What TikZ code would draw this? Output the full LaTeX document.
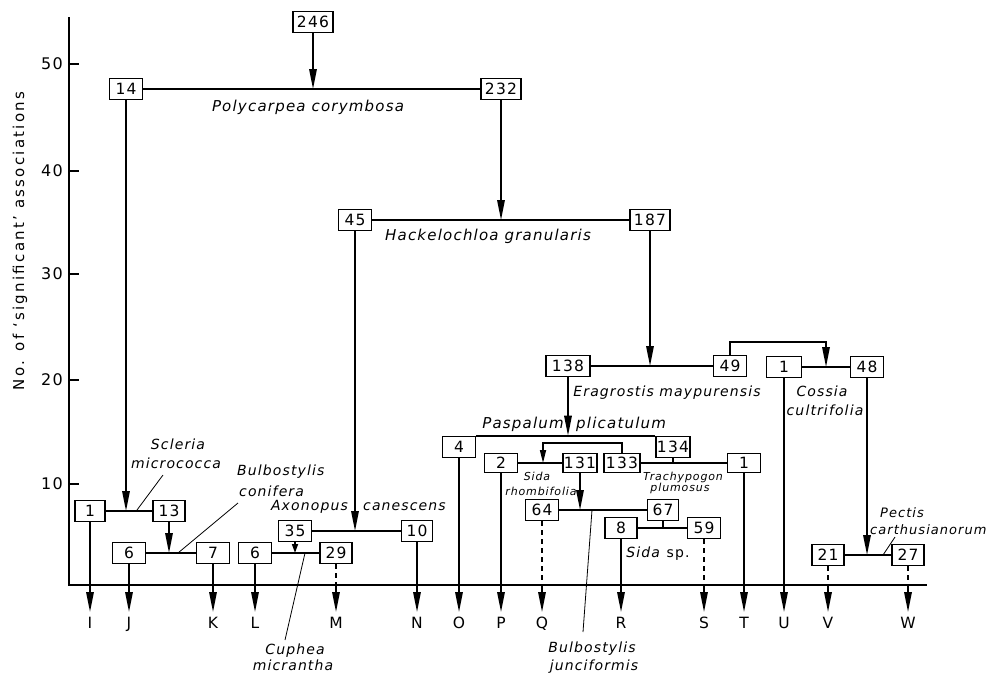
\documentclass[tikz,border=0pt]{standalone}
\usepackage{fontspec}
\setmainfont{DejaVu Sans}[ItalicFont={DejaVu Sans Oblique},LetterSpace=8]
\newfontfamily\ylabfont{DejaVu Sans}[LetterSpace=15]
\usetikzlibrary{arrows.meta}

\tikzset{
  box/.style={draw, line width=1.6pt, minimum width=33pt, minimum height=21pt,
              inner sep=1pt, font=\fontsize{15.5}{18}\selectfont},
  wide/.style={minimum width=40pt},
  low/.style={minimum height=19pt},
  link/.style={line width=1.6pt},
  arr/.style={line width=1.6pt, -{Triangle[length=20pt,width=7.5pt]}},
  marr/.style={line width=1.6pt, -{Triangle[length=13pt,width=6pt]}},
  sarr/.style={line width=1.6pt, -{Triangle[length=9pt,width=6pt]}},
  broken/.style={line width=1.6pt, dash pattern=on 5pt off 4pt},
  leader/.style={line width=0.8pt},
  leaf/.style={inner sep=0pt, anchor=north, text height=11pt, text depth=3pt,
               font=\fontsize{15.5}{18}\selectfont},
  bigname/.style={font=\fontsize{15}{18}\selectfont\itshape, inner sep=0pt, anchor=base},
  midname/.style={font=\fontsize{14}{17}\selectfont\itshape, inner sep=0pt, anchor=base},
  pecname/.style={font=\fontsize{13}{16}\selectfont\itshape, inner sep=0pt, anchor=base west},
  smallname/.style={font=\fontsize{11}{13}\selectfont\itshape, inner sep=0pt, anchor=base},
  ticklabel/.style={font=\fontsize{16}{19}\selectfont, anchor=east, inner sep=0pt},
}

\begin{document}
\begin{tikzpicture}[x=1pt, y=-1pt]
\useasboundingbox (0,0) rectangle (992,673);

% axes
\coordinate (axTop) at (69,17);
\coordinate (ax0) at (69,585);
\coordinate (axEnd) at (927,585);
\draw[line width=1.6pt] (axTop) -- (ax0) -- (axEnd);
\foreach \v/\yy in {50/64,40/171,30/274,20/380,10/484}{
  \draw[line width=1.6pt] (69,\yy) -- (79,\yy);
  \node[ticklabel] (t\v) at (63,\yy) {\v};
}
\node[rotate=90, inner sep=0pt, font=\ylabfont\fontsize{15}{18}\selectfont]
  (ylab) at (20,241) {No. of ‘significant’ associations};

% boxes
\node[box,wide] (b246) at (313,22) {246};
\node[box] (b14) at (126,89) {14};
\node[box,wide] (b232) at (501,89) {232};
\node[box] (b45) at (355,220) {45};
\node[box,wide] (b187) at (650,220) {187};
\node[box,minimum width=44pt] (b138) at (568,366) {138};
\node[box] (b49) at (730,366) {49};
\node[box,minimum width=35pt] (b1u) at (784,367) {1};
\node[box] (b48) at (867,367) {48};
\node[box] (b4) at (459,447) {4};
\node[box] (b134) at (673,447) {134};
\node[box,low] (b2) at (501,463) {2};
\node[box,low] (b131) at (580,463) {131};
\node[box,low,minimum width=36pt] (b133) at (622,463) {133};
\node[box,low] (b1t) at (744,463) {1};
\node[box] (b64) at (542,510) {64};
\node[box,minimum width=31pt] (b67) at (663,510) {67};
\node[box,minimum width=32pt] (b8) at (621,528) {8};
\node[box] (b59) at (704,528) {59};
\node[box,minimum width=30pt] (b1i) at (90,511) {1};
\node[box,minimum width=32pt] (b13) at (169,511) {13};
\node[box] (b6j) at (129,553) {6};
\node[box] (b7) at (213,553) {7};
\node[box] (b35) at (295,531) {35};
\node[box,minimum width=31pt] (b10) at (417,531) {10};
\node[box] (b6l) at (255,553) {6};
\node[box,minimum width=32pt] (b29) at (336,553) {29};
\node[box,minimum width=32pt] (b21) at (828,555) {21};
\node[box,minimum width=32pt] (b27) at (908,555) {27};

% splits
\draw[arr] (b246.south) -- (b246.south |- b14);
\draw[link] (b14) -- (b232);
\draw[arr] (b232.south) -- (b232.south |- b45);
\draw[link] (b45) -- (b187);
\draw[arr] (b14.south) -- (b14.south |- b1i);
\draw[link] (b1i) -- (b13);
\draw[arr] (b13.south) -- (b13.south |- b6j);
\draw[link] (b6j) -- (b7);
\draw[arr] (b45.south) -- (b45.south |- b35);
\draw[link] (b35) -- (b10);
\draw[sarr] (b35.south) -- (b35.south |- b6l);
\draw[link] (b6l) -- (b29);
\draw[arr] (b187.south) -- (b187.south |- b138);
\draw[link] (b138) -- (b49);
\coordinate (jCos) at (826,367);
\draw[arr] (b49.north) -- ++(0,-13) -| (jCos);
\draw[link] (b1u) -- (b48);
\draw[arr] (b138.south) -- (b138.south |- b4.north);
\draw[link] (b4.north east) -- (b134.north west);
\coordinate (jSida) at (543,463);
\draw[marr] (b133.north) -- ++(0,-10) -| (jSida);
\draw[link] (b2) -- (b131);
\draw[link] (b133) -- (b1t);
\draw[link] (b134.south) -- (b134.south |- b133);
\draw[arr] (b131.south) -- (b131.south |- b64);
\draw[link] (b64) -- (b67);
\draw[link] (b67.south) -- (b67.south |- b8);
\draw[link] (b8) -- (b59);
\draw[arr] (b48.south) -- (b48.south |- b21);
\draw[link] (b21) -- (b27);

% end groups
\coordinate (lrow) at (0,617);
\foreach \b/\l in {b1i/I,b6j/J,b7/K,b6l/L,b10/N,b4/O,b2/P,b8/R,b1t/T,b1u/U}{
  \node[leaf] (l\l) at (\b.south |- lrow) {\l};
  \draw[arr, shorten >=5pt] (\b.south) -- (l\l.north);
}
\foreach \b/\l in {b29/M,b64/Q,b59/S,b21/V,b27/W}{
  \node[leaf] (l\l) at (\b.south |- lrow) {\l};
  \draw[broken] (\b.south) -- (\b.south |- ax0);
  \draw[arr, shorten >=5pt] (\b.south |- ax0) -- (l\l.north);
}

% species names
\node[bigname] (nPoly) at (308,111) {Polycarpea corymbosa};
\node[bigname] (nHack) at (488,240) {Hackelochloa granularis};
\node[midname] (nErag) at (667,396) {Eragrostis maypurensis};
\node[midname] (nCosA) at (822,396) {Cossia};
\node[midname] (nCosB) at (825,415) {cultrifolia};
\node[bigname, anchor=base east] (nPasA) at (564,428) {Paspalum};
\node[bigname, anchor=base west] (nPasB) at (576,428) {plicatulum};
\node[smallname] (nSidA) at (537,480) {Sida};
\node[smallname] (nSidB) at (541,495) {rhombifolia};
\node[smallname] (nTraA) at (683,480) {Trachypogon};
\node[smallname] (nTraB) at (680,491) {plumosus};
\node[midname] (nSsp) at (658,557) {Sida\textup{ sp.}};
\node[midname] (nSclA) at (178,449) {Scleria};
\node[midname] (nSclB) at (176,468) {micrococca};
\node[midname, anchor=base west] (nBcA) at (237,475) {Bulbostylis};
\node[midname, anchor=base west] (nBcB) at (239,496) {conifera};
\node[midname, anchor=base east] (nAxoA) at (348,510) {Axonopus};
\node[midname, anchor=base west] (nAxoB) at (363,510) {canescens};
\node[midname] (nCupA) at (295,654) {Cuphea};
\node[midname] (nCupB) at (293,670) {micrantha};
\node[midname] (nBjA) at (592,652) {Bulbostylis};
\node[midname] (nBjB) at (594,670) {junciformis};
\node[pecname] (nPecA) at (880,517) {Pectis};
\node[pecname] (nPecB) at (870,534) {carthusianorum};

% leaders from names to their splits
\coordinate (sclFoot) at (137,510);  \coordinate (sclHead) at (163,475);
\coordinate (bcFoot) at (178,553);   \coordinate (bcHead) at (238,503);
\coordinate (cupFoot) at (305,553);  \coordinate (cupHead) at (285,640);
\coordinate (bjFoot) at (592,510);   \coordinate (bjHead) at (583,632);
\coordinate (pecFoot) at (883,555);  \coordinate (pecHead) at (895,537);
\draw[leader] (sclFoot) -- (sclHead);
\draw[leader] (bcFoot) -- (bcHead);
\draw[leader] (cupFoot) -- (cupHead);
\draw[leader] (bjFoot) -- (bjHead);
\draw[leader] (pecFoot) -- (pecHead);
\end{tikzpicture}
\end{document}
